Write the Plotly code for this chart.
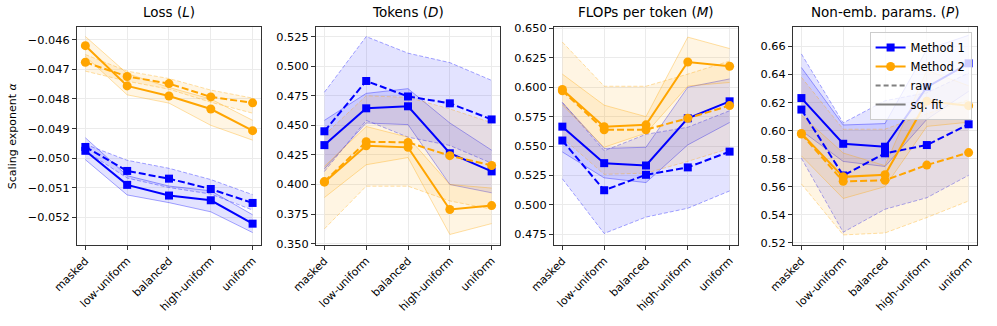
"""Scaling exponents per masking schedule, four panels."""

import plotly.graph_objects as go
from plotly.subplots import make_subplots


CATS = ["masked", "low-uniform", "balanced", "high-uniform", "uniform"]
TITLES = [
    "Loss (<i>L</i>)",
    "Tokens (<i>D</i>)",
    "FLOPs per token (<i>M</i>)",
    "Non-emb. params. (<i>P</i>)",
]

# y tick values per panel
TICKS_LOSS = [-0.052, -0.051, -0.050, -0.049, -0.048, -0.047, -0.046]
TICKS_TOK = [0.350, 0.375, 0.400, 0.425, 0.450, 0.475, 0.500, 0.525]
TICKS_FLOP = [0.475, 0.500, 0.525, 0.550, 0.575, 0.600, 0.625, 0.650]
TICKS_PAR = [0.52, 0.54, 0.56, 0.58, 0.60, 0.62, 0.64, 0.66]

# Loss (L)
LOSS_M1_RAW = [-0.04962, -0.05043, -0.05069, -0.05104, -0.05151]
LOSS_M1_RAW_LO = [-0.04975, -0.05067, -0.05099, -0.05121, -0.05175]
LOSS_M1_RAW_HI = [-0.04953, -0.05007, -0.05034, -0.05072, -0.05123]
LOSS_M1_FIT = [-0.04975, -0.05090, -0.05126, -0.05142, -0.05221]
LOSS_M1_FIT_LO = [-0.05005, -0.05124, -0.05150, -0.05181, -0.05251]
LOSS_M1_FIT_HI = [-0.04931, -0.05059, -0.05094, -0.05110, -0.05191]
LOSS_M2_RAW = [-0.04676, -0.04724, -0.04748, -0.04793, -0.04813]
LOSS_M2_RAW_LO = [-0.04706, -0.04740, -0.04767, -0.04811, -0.04848]
LOSS_M2_RAW_HI = [-0.04650, -0.04706, -0.04731, -0.04770, -0.04797]
LOSS_M2_FIT = [-0.04620, -0.04756, -0.04790, -0.04834, -0.04907]
LOSS_M2_FIT_LO = [-0.04656, -0.04786, -0.04814, -0.04889, -0.04939]
LOSS_M2_FIT_HI = [-0.04589, -0.04714, -0.04761, -0.04800, -0.04872]

# Tokens (D)
TOK_M1_RAW = [0.4450, 0.4875, 0.4744, 0.4686, 0.4550]
TOK_M1_RAW_LO = [0.4110, 0.4542, 0.4400, 0.4330, 0.4180]
TOK_M1_RAW_HI = [0.4780, 0.5250, 0.5110, 0.5030, 0.4880]
TOK_M1_FIT = [0.4333, 0.4644, 0.4661, 0.4264, 0.4111]
TOK_M1_FIT_LO = [0.4133, 0.4520, 0.4506, 0.4000, 0.3930]
TOK_M1_FIT_HI = [0.4542, 0.4770, 0.4810, 0.4520, 0.4290]
TOK_M2_RAW = [0.4025, 0.4361, 0.4356, 0.4244, 0.4161]
TOK_M2_RAW_LO = [0.3625, 0.3986, 0.3986, 0.3861, 0.3792]
TOK_M2_RAW_HI = [0.4417, 0.4750, 0.4736, 0.4639, 0.4522]
TOK_M2_FIT = [0.4020, 0.4328, 0.4314, 0.3789, 0.3822]
TOK_M2_FIT_LO = [0.3890, 0.4167, 0.4228, 0.3578, 0.3670]
TOK_M2_FIT_HI = [0.4153, 0.4490, 0.4400, 0.4000, 0.3970]

# FLOPs per token (M)
FLOP_M1_RAW = [0.5547, 0.5125, 0.5256, 0.5319, 0.5453]
FLOP_M1_RAW_LO = [0.5222, 0.4758, 0.4897, 0.4972, 0.5119]
FLOP_M1_RAW_HI = [0.5870, 0.5460, 0.5600, 0.5660, 0.5800]
FLOP_M1_FIT = [0.5665, 0.5355, 0.5335, 0.5736, 0.5880]
FLOP_M1_FIT_LO = [0.5450, 0.5230, 0.5190, 0.5510, 0.5700]
FLOP_M1_FIT_HI = [0.5870, 0.5480, 0.5490, 0.6000, 0.6070]
FLOP_M2_RAW = [0.5970, 0.5639, 0.5639, 0.5736, 0.5844]
FLOP_M2_RAW_LO = [0.5570, 0.5260, 0.5270, 0.5370, 0.5480]
FLOP_M2_RAW_HI = [0.6383, 0.6008, 0.6008, 0.6111, 0.6222]
FLOP_M2_FIT = [0.5980, 0.5665, 0.5680, 0.6214, 0.6178]
FLOP_M2_FIT_LO = [0.5850, 0.5490, 0.5610, 0.6010, 0.6040]
FLOP_M2_FIT_HI = [0.6111, 0.5847, 0.5750, 0.6425, 0.6328]

# Non-embedding params (P)
PAR_M1_RAW = [0.6150, 0.5680, 0.5838, 0.5897, 0.6045]
PAR_M1_RAW_LO = [0.5803, 0.5275, 0.5439, 0.5521, 0.5681]
PAR_M1_RAW_HI = [0.6547, 0.6055, 0.6213, 0.6270, 0.6410]
PAR_M1_FIT = [0.6232, 0.5906, 0.5885, 0.6310, 0.6480]
PAR_M1_FIT_LO = [0.6000, 0.5780, 0.5744, 0.6080, 0.6280]
PAR_M1_FIT_HI = [0.6450, 0.6040, 0.6050, 0.6580, 0.6680]
PAR_M2_RAW = [0.5975, 0.5638, 0.5646, 0.5754, 0.5843]
PAR_M2_RAW_LO = [0.5620, 0.5256, 0.5270, 0.5380, 0.5498]
PAR_M2_RAW_HI = [0.6380, 0.6010, 0.6010, 0.6120, 0.6220]
PAR_M2_FIT = [0.5980, 0.5670, 0.5685, 0.6210, 0.6178]
PAR_M2_FIT_LO = [0.5820, 0.5516, 0.5600, 0.6030, 0.6060]
PAR_M2_FIT_HI = [0.6110, 0.5840, 0.5750, 0.6430, 0.6320]

PANELS = [
    {
        "m1": [(LOSS_M1_RAW, LOSS_M1_RAW_LO, LOSS_M1_RAW_HI), (LOSS_M1_FIT, LOSS_M1_FIT_LO, LOSS_M1_FIT_HI)],
        "m2": [(LOSS_M2_RAW, LOSS_M2_RAW_LO, LOSS_M2_RAW_HI), (LOSS_M2_FIT, LOSS_M2_FIT_LO, LOSS_M2_FIT_HI)],
        "range": [-0.05293, -0.04557], "ticks": TICKS_LOSS, "fmt": "{:.3f}",
    },
    {
        "m1": [(TOK_M1_RAW, TOK_M1_RAW_LO, TOK_M1_RAW_HI), (TOK_M1_FIT, TOK_M1_FIT_LO, TOK_M1_FIT_HI)],
        "m2": [(TOK_M2_RAW, TOK_M2_RAW_LO, TOK_M2_RAW_HI), (TOK_M2_FIT, TOK_M2_FIT_LO, TOK_M2_FIT_HI)],
        "range": [0.3489, 0.5331], "ticks": TICKS_TOK, "fmt": "{:.3f}",
    },
    {
        "m1": [(FLOP_M1_RAW, FLOP_M1_RAW_LO, FLOP_M1_RAW_HI), (FLOP_M1_FIT, FLOP_M1_FIT_LO, FLOP_M1_FIT_HI)],
        "m2": [(FLOP_M2_RAW, FLOP_M2_RAW_LO, FLOP_M2_RAW_HI), (FLOP_M2_FIT, FLOP_M2_FIT_LO, FLOP_M2_FIT_HI)],
        "range": [0.4660, 0.6511], "ticks": TICKS_FLOP, "fmt": "{:.3f}",
    },
    {
        "m1": [(PAR_M1_RAW, PAR_M1_RAW_LO, PAR_M1_RAW_HI), (PAR_M1_FIT, PAR_M1_FIT_LO, PAR_M1_FIT_HI)],
        "m2": [(PAR_M2_RAW, PAR_M2_RAW_LO, PAR_M2_RAW_HI), (PAR_M2_FIT, PAR_M2_FIT_LO, PAR_M2_FIT_HI)],
        "range": [0.5184, 0.6739], "ticks": TICKS_PAR, "fmt": "{:.2f}",
    },
]

DOMAINS = [[0.0, 0.2044], [0.2656, 0.4700], [0.5300, 0.7344], [0.7956, 1.0]]
FONT = "DejaVu Sans"
STYLE = {
    "m1": {"rgb": "0,0,255", "color": "#0000ff", "symbol": "square", "size": 8},
    "m2": {"rgb": "255,165,0", "color": "#ffa500", "symbol": "circle", "size": 9},
}


def add_band(fig, col, lo, hi, rgb, dash):
    """Shaded interval with thin edge lines."""
    edge = dict(color=f"rgba({rgb},0.35)", width=1, dash="4px,2px" if dash else "solid")
    fig.add_trace(go.Scatter(x=CATS, y=hi, mode="lines", line=edge,
                             showlegend=False, hoverinfo="skip"), row=1, col=col)
    fig.add_trace(go.Scatter(x=CATS, y=lo, mode="lines", line=edge, fill="tonexty",
                             fillcolor=f"rgba({rgb},0.11)", showlegend=False,
                             hoverinfo="skip"), row=1, col=col)


def main():
    fig = make_subplots(rows=1, cols=4)
    for i, panel in enumerate(PANELS):
        col = i + 1
        for key in ["m1", "m2"]:
            st = STYLE[key]
            for j, (_, lo, hi) in enumerate(panel[key]):
                add_band(fig, col, lo, hi, st["rgb"], dash=(j == 0))
        for key in ["m1", "m2"]:
            st = STYLE[key]
            for j, (mid, _, _) in enumerate(panel[key]):
                fig.add_trace(go.Scatter(
                    x=CATS, y=mid, mode="lines+markers",
                    line=dict(color=st["color"], width=2, dash="7px,3px" if j == 0 else "solid"),
                    marker=dict(symbol=st["symbol"], size=st["size"], color=st["color"]),
                    showlegend=False,
                ), row=1, col=col)
        axis = "" if i == 0 else str(col)
        fig.layout[f"xaxis{axis}"].update(
            domain=DOMAINS[i], range=[-0.2, 4.2], tickangle=-45,
        )
        fig.layout[f"yaxis{axis}"].update(
            range=panel["range"], tickmode="array", tickvals=panel["ticks"],
            ticktext=[panel["fmt"].format(v).replace("-", "\u2212") for v in panel["ticks"]],
        )
        fig.add_annotation(
            text=TITLES[i], x=sum(DOMAINS[i]) / 2, y=1.0, xref="paper", yref="paper",
            xanchor="center", yanchor="middle", yshift=15, showarrow=False,
            font=dict(size=13.5, color="black"),
        )

    # legend entries
    for name, color, symbol, size, dash, mode in [
        ("Method 1", "#0000ff", "square", 8, "solid", "lines+markers"),
        ("Method 2", "#ffa500", "circle", 9, "solid", "lines+markers"),
        ("raw", "#808080", None, 0, "5px,3px", "lines"),
        ("sq. fit", "#808080", None, 0, "solid", "lines"),
    ]:
        marker = dict(symbol=symbol, size=size, color=color) if symbol else None
        fig.add_trace(go.Scatter(x=[None], y=[None], mode=mode, name=name,
                                 line=dict(color=color, width=2, dash=dash),
                                 marker=marker), row=1, col=4)

    fig.update_xaxes(
        showline=True, mirror=True, linecolor="#333333", linewidth=1.2,
        ticks="outside", ticklen=4, tickcolor="#333333",
        showgrid=True, gridcolor="#ebebeb", zeroline=False,
        tickfont=dict(size=11),
    )
    fig.update_yaxes(
        showline=True, mirror=True, linecolor="#333333", linewidth=1.2,
        ticks="outside", ticklen=4, tickcolor="#333333",
        showgrid=True, gridcolor="#ebebeb", zeroline=False,
        tickfont=dict(size=11.3),
    )
    fig.add_annotation(
        text="Scaling exponent <i>α</i>", x=-0.072, y=0.5, xref="paper", yref="paper",
        xanchor="center", yanchor="middle", textangle=-90, showarrow=False,
        font=dict(size=11, color="black"),
    )
    fig.update_layout(
        width=997, height=326,
        margin=dict(l=77, r=20, t=27, b=78),
        plot_bgcolor="white", paper_bgcolor="white",
        font=dict(family=FONT, color="black"),
        showlegend=True,
        legend=dict(
            x=0.994, y=0.977, xanchor="right", yanchor="top",
            bgcolor="rgba(255,255,255,0.8)", bordercolor="#cccccc", borderwidth=1,
            font=dict(size=11.5), tracegroupgap=0, itemwidth=30, traceorder="normal",
        ),
    )
    fig.write_html(
        "out.html",
        config={"displayModeBar": False},
        post_script="document.body.style.margin='0px';",
    )


if __name__ == "__main__":
    main()
